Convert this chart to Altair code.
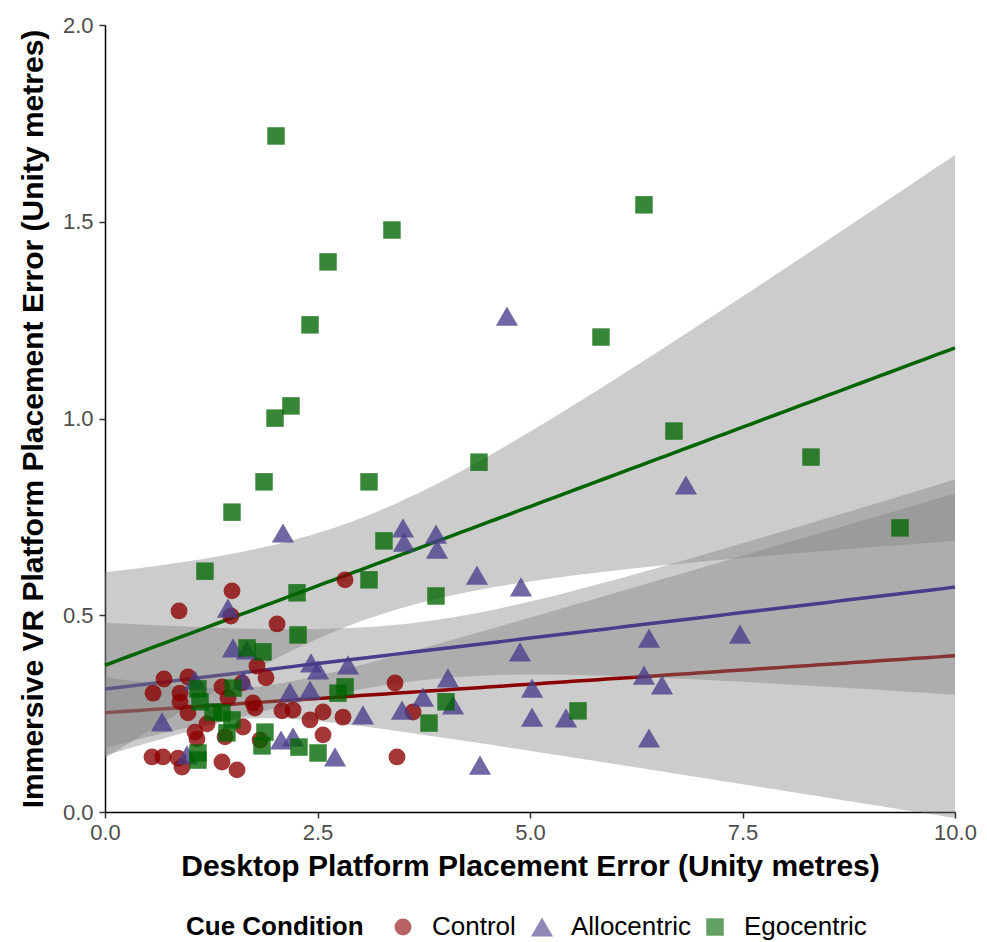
import numpy as np
import pandas as pd
import altair as alt

# Cue conditions, drawn in this order
conditions = ["Control", "Allocentric", "Egocentric"]
colours = ["#8B0000", "#483D8B", "#006400"]
shapes = ["circle", "triangle-up", "square"]
point_sizes = [285, 490, 305]

# Desktop vs immersive VR platform placement error (Unity metres)
control_x = [1.494, 0.871, 1.482, 2.024, 2.824, 1.788, 1.894, 1.612, 0.694, 0.976,
             0.565, 0.882, 0.882, 1.376, 1.447, 1.741, 1.765, 0.976, 1.200, 1.624,
             1.059, 1.082, 1.412, 1.824, 2.082, 2.212, 2.412, 2.565, 2.800, 2.565,
             3.412, 3.624, 3.435, 0.553, 0.682, 0.859, 0.906, 1.376, 1.553]
control_y = [0.562, 0.511, 0.498, 0.478, 0.590, 0.371, 0.341, 0.328, 0.338, 0.343,
             0.302, 0.302, 0.280, 0.318, 0.290, 0.277, 0.264, 0.252, 0.224, 0.216,
             0.203, 0.186, 0.191, 0.183, 0.257, 0.259, 0.234, 0.254, 0.241, 0.196,
             0.328, 0.254, 0.140, 0.140, 0.140, 0.137, 0.114, 0.127, 0.107]

allocentric_x = [4.729, 6.835, 2.094, 3.506, 3.518, 3.894, 3.906, 4.376, 4.894, 1.447,
                 6.400, 7.471, 4.882, 1.506, 1.671, 2.424, 2.506, 2.859, 6.553, 5.024,
                 6.341, 5.024, 5.424, 6.400, 4.412, 3.035, 3.494, 3.741, 4.035, 4.094,
                 2.706, 2.412, 2.176, 2.071, 2.212, 0.671, 1.624, 1.059, 0.965]
allocentric_y = [1.260, 0.831, 0.709, 0.722, 0.686, 0.706, 0.668, 0.602, 0.572, 0.518,
                 0.442, 0.452, 0.407, 0.417, 0.412, 0.379, 0.361, 0.374, 0.323, 0.315,
                 0.348, 0.241, 0.239, 0.188, 0.119, 0.247, 0.259, 0.292, 0.341, 0.272,
                 0.140, 0.310, 0.305, 0.183, 0.191, 0.229, 0.335, 0.335, 0.145]

egocentric_x = [2.012, 6.341, 3.376, 2.624, 2.412, 5.835, 2.188, 2.000, 6.694, 8.306,
                4.400, 1.871, 3.106, 1.494, 9.353, 3.282, 3.106, 3.894, 1.176, 2.259,
                2.271, 1.671, 1.859, 2.824, 2.741, 4.012, 5.565, 3.812, 1.094, 1.506,
                1.118, 1.271, 1.376, 1.494, 1.435, 1.882, 1.847, 1.094, 1.094, 2.282,
                2.506]
egocentric_y = [1.718, 1.543, 1.479, 1.398, 1.238, 1.207, 1.032, 1.001, 0.968, 0.902,
                0.889, 0.839, 0.839, 0.762, 0.722, 0.689, 0.590, 0.549, 0.612, 0.557,
                0.450, 0.417, 0.407, 0.318, 0.302, 0.280, 0.257, 0.226, 0.313, 0.315,
                0.280, 0.254, 0.252, 0.234, 0.201, 0.203, 0.168, 0.150, 0.132, 0.165,
                0.150]

series = {
    "Control": (control_x, control_y),
    "Allocentric": (allocentric_x, allocentric_y),
    "Egocentric": (egocentric_x, egocentric_y),
}


def t_quantile(df, z=1.959964):
    # Cornish-Fisher expansion of the Student t 97.5% quantile
    return (z + (z**3 + z) / (4 * df)
            + (5 * z**5 + 16 * z**3 + 3 * z) / (96 * df**2)
            + (3 * z**7 + 19 * z**5 + 17 * z**3 - 15 * z) / (384 * df**3))


def linear_fit(xs, ys, grid):
    x = np.asarray(xs, float)
    y = np.asarray(ys, float)
    n = len(x)
    slope, intercept = np.polyfit(x, y, 1)
    resid = y - (intercept + slope * x)
    s = np.sqrt(np.sum(resid**2) / (n - 2))
    sxx = np.sum((x - x.mean())**2)
    se = s * np.sqrt(1.0 / n + (grid - x.mean())**2 / sxx)
    fit = intercept + slope * grid
    half = t_quantile(n - 2) * se
    return fit, fit - half, fit + half


grid = np.linspace(0, 10, 101)
point_rows = []
fit_rows = []
for cond in conditions:
    xs, ys = series[cond]
    for a, b in zip(xs, ys):
        point_rows.append({"desktop": a, "vr": b, "cond": cond})
    fit, lo, hi = linear_fit(xs, ys, grid)
    for g, f, l, h in zip(grid, fit, lo, hi):
        fit_rows.append({"desktop": g, "fit": f, "lo": l, "hi": h, "cond": cond})

points = pd.DataFrame(point_rows)
fits = pd.DataFrame(fit_rows)

x_title = "Desktop Platform Placement Error (Unity metres)"
y_title = "Immersive VR Platform Placement Error (Unity metres)"


def x_enc():
    return alt.X("desktop:Q", title=x_title,
                 scale=alt.Scale(domain=[0, 10], nice=False, zero=False),
                 axis=alt.Axis(values=[0, 2.5, 5, 7.5, 10], format=".1f"))


def y_enc(field):
    return alt.Y(f"{field}:Q", title=y_title,
                 scale=alt.Scale(domain=[0, 2], nice=False),
                 axis=alt.Axis(values=[0, 0.5, 1, 1.5, 2], format=".1f"))


# one confidence ribbon + fitted line per condition, stacked in condition order
layers = []
for cond, col in zip(conditions, colours):
    base = alt.Chart(fits).transform_filter(alt.datum.cond == cond)
    band = base.mark_area(color="#808080", opacity=0.4).encode(
        x=x_enc(), y=y_enc("lo"), y2="hi:Q")
    line = base.mark_line(color=col, strokeWidth=3.5).encode(
        x=x_enc(), y=y_enc("fit"))
    layers += [band, line]

dots = alt.Chart(points).mark_point(filled=True, opacity=0.78).encode(
    x=x_enc(),
    y=y_enc("vr"),
    color=alt.Color("cond:N", scale=alt.Scale(domain=conditions, range=colours),
                    legend=alt.Legend(
                        title="Cue Condition", orient="none",
                        legendX=81, legendY=889, direction="horizontal",
                        titleOrient="left", titleFontSize=26, titleFontWeight="bold",
                        titleColor="black", titleFont="Liberation Sans",
                        labelFont="Liberation Sans", labelFontSize=26,
                        labelColor="black", symbolSize=300, symbolOpacity=0.78,
                        labelOffset=16, columnPadding=11, titlePadding=26)),
    shape=alt.Shape("cond:N", scale=alt.Scale(domain=conditions, range=shapes)),
    size=alt.Size("cond:N",
                  scale=alt.Scale(type="ordinal", domain=conditions, range=point_sizes),
                  legend=None),
)

chart = alt.layer(*layers, dots).properties(
    width=850,
    height=787,
    autosize=alt.AutoSizeParams(type="none"),
    padding={"left": 105, "top": 25, "right": 32, "bottom": 130},
    background="white",
).configure_view(stroke=None).configure_axis(
    labelFont="Liberation Sans", titleFont="Liberation Sans",
    labelFontSize=22, labelColor="#4d4d4d", labelFlush=False,
    titleFontSize=30, titleFontWeight="bold", titleColor="black",
    domainColor="black", domainWidth=1.5,
    tickColor="#333333", tickWidth=1.5, tickSize=6, grid=False,
).configure_axisX(labelPadding=4, titlePadding=8).configure_axisY(
    labelPadding=6, titlePadding=14)

chart.save("out.html", embed_options={"renderer": "svg", "actions": False})
